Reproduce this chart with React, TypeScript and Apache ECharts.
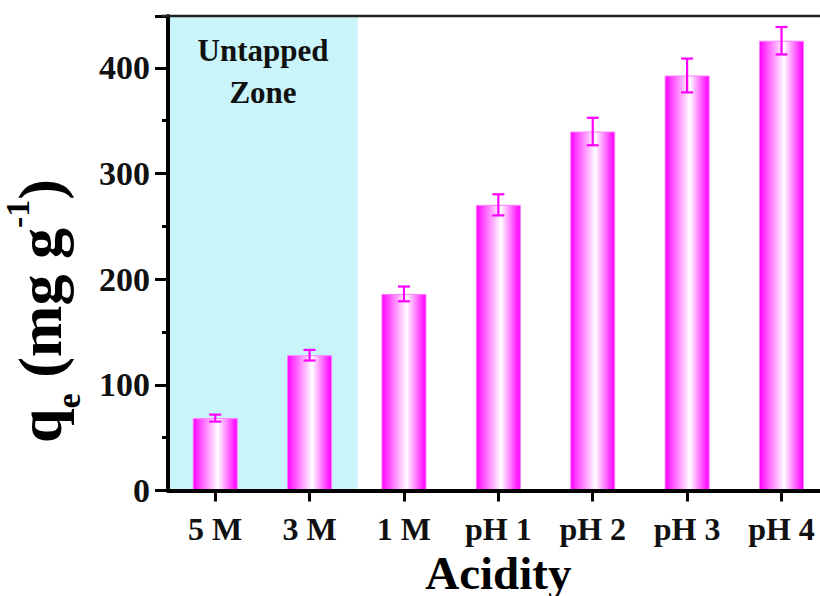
import React, { useEffect, useRef } from "react";
import * as echarts from "echarts";

const CATEGORIES = ["5 M", "3 M", "1 M", "pH 1", "pH 2", "pH 3", "pH 4"];
const QE_MEAN = [68.5, 128, 186, 270.3, 339.7, 392.7, 425.6];
const QE_ERR = [3.3, 5, 7, 10, 13, 16, 13];
const ZONE_CATEGORIES = ["5 M", "3 M"];
const ZONE_TEXT = ["Untapped", "Zone"];
const Y_MIN = 0;
const Y_MAX = 449;
const Y_INTERVAL = 100;
const X_TITLE = "Acidity";

const SERIF = "Liberation Serif";
const MAGENTA = "#ff00ff";

export default function App() {
  const ref = useRef<HTMLDivElement>(null);

  useEffect(() => {
    if (!ref.current) return;
    const chart = echarts.init(ref.current, null, { renderer: "svg" });

    const zoneData = CATEGORIES.map((c) => (ZONE_CATEGORIES.includes(c) ? Y_MAX : "-"));
    const errData = CATEGORIES.map((c, i) => [i, QE_MEAN[i], QE_ERR[i]]);

    const option: any = {
      animation: false,
      backgroundColor: "#ffffff",
      textStyle: { fontFamily: SERIF },
      grid: {
        left: 168,
        top: 16,
        width: 660.7,
        bottom: 105.5,
        containLabel: false,
        outerBoundsMode: "none",
      },
      xAxis: [
        {
          type: "category",
          data: CATEGORIES,
          boundaryGap: true,
          z: 5,
          axisLine: { show: true, lineStyle: { color: "#000", width: 4 } },
          axisTick: { show: true, alignWithLabel: true, length: 11, lineStyle: { color: "#000", width: 3 } },
          axisLabel: {
            interval: 0,
            margin: 22,
            fontSize: 32,
            fontWeight: "bold",
            fontFamily: SERIF,
            color: "#111",
          },
          splitLine: { show: false },
          name: X_TITLE,
          nameLocation: "middle",
          nameGap: 58,
          nameTextStyle: { fontSize: 47, fontWeight: "bold", fontFamily: SERIF, color: "#000" },
        },
        {
          type: "category",
          data: CATEGORIES,
          boundaryGap: true,
          show: false,
        },
      ],
      yAxis: {
        type: "value",
        min: Y_MIN,
        max: Y_MAX,
        interval: Y_INTERVAL,
        z: 5,
        axisLine: { show: true, lineStyle: { color: "#000", width: 4 } },
        axisTick: { show: true, length: 13, lineStyle: { color: "#000", width: 3 } },
        minorTick: { show: true, splitNumber: 2, length: 6, lineStyle: { color: "#000", width: 3 } },
        splitLine: { show: false },
        minorSplitLine: { show: false },
        axisLabel: {
          margin: 18,
          fontSize: 34,
          fontWeight: "bold",
          fontFamily: SERIF,
          color: "#111",
          showMaxLabel: false,
          formatter: (v: number) => (v % Y_INTERVAL === 0 ? String(v) : ""),
        },
      },
      series: [
        {
          name: "Untapped Zone",
          type: "bar",
          xAxisIndex: 1,
          data: zoneData,
          barWidth: "102%",
          z: 1,
          silent: true,
          itemStyle: { color: "#c8f4fa" },
        },
        {
          name: "qe",
          type: "bar",
          xAxisIndex: 0,
          data: QE_MEAN,
          barWidth: 45,
          z: 2,
          itemStyle: {
            color: {
              type: "linear",
              x: 0,
              y: 0,
              x2: 1,
              y2: 0,
              colorStops: [
                { offset: 0, color: "#ff00ff" },
                { offset: 0.1, color: "#ff30ff" },
                { offset: 0.56, color: "#ffffff" },
                { offset: 0.9, color: "#ff30ff" },
                { offset: 1, color: "#ff00ff" },
              ],
            },
            borderColor: "#ff7dff",
            borderWidth: 1,
          },
        },
        {
          name: "error",
          type: "custom",
          xAxisIndex: 0,
          z: 3,
          data: errData,
          encode: { x: 0, y: 1 },
          renderItem: (params: any, api: any) => {
            const idx = api.value(0);
            const mean = api.value(1);
            const err = api.value(2);
            const top = api.coord([idx, mean + err]);
            const bot = api.coord([idx, mean - err]);
            const hw = 6;
            const st = { stroke: MAGENTA, lineWidth: 2.2 };
            return {
              type: "group",
              children: [
                { type: "line", shape: { x1: top[0], y1: top[1], x2: bot[0], y2: bot[1] }, style: st },
                { type: "line", shape: { x1: top[0] - hw, y1: top[1], x2: top[0] + hw, y2: top[1] }, style: st },
                { type: "line", shape: { x1: bot[0] - hw, y1: bot[1], x2: bot[0] + hw, y2: bot[1] }, style: st },
              ],
            };
          },
        },
      ],
      graphic: [
        {
          type: "line",
          z: 10,
          shape: { x1: 161, y1: 16, x2: 820, y2: 16 },
          style: { stroke: "#222", lineWidth: 2.5 },
        },
        {
          type: "text",
          z: 10,
          x: 263,
          y: 71,
          style: {
            text: ZONE_TEXT.join("\n"),
            align: "center",
            verticalAlign: "middle",
            fontSize: 31,
            fontWeight: "bold",
            fontFamily: SERIF,
            lineHeight: 42,
            fill: "#111",
          },
        },
        {
          type: "text",
          z: 10,
          x: 9,
          y: 311,
          rotation: Math.PI / 2,
          style: {
            text: "{m|q}{sub|e}{m| (mg g}{sup|-1}{m|)}",
            align: "center",
            verticalAlign: "top",
            fontFamily: SERIF,
            fontWeight: "bold",
            fill: "#000",
            rich: {
              m: { fontSize: 62, fontWeight: "bold", fontFamily: SERIF, lineHeight: 62, verticalAlign: "top", fill: "#000" },
              sub: { fontSize: 34, fontWeight: "bold", fontFamily: SERIF, height: 34, padding: [42, 0, 0, 0], verticalAlign: "top", fill: "#000" },
              sup: { fontSize: 34, fontWeight: "bold", fontFamily: SERIF, height: 17, verticalAlign: "top", fill: "#000" },
            },
          },
        },
      ],
    };

    chart.setOption(option);
    return () => chart.dispose();
  }, []);

  return (
    <div
      ref={ref}
      style={{ position: "fixed", left: 0, top: 0, width: 820, height: 596, background: "#fff" }}
    />
  );
}
